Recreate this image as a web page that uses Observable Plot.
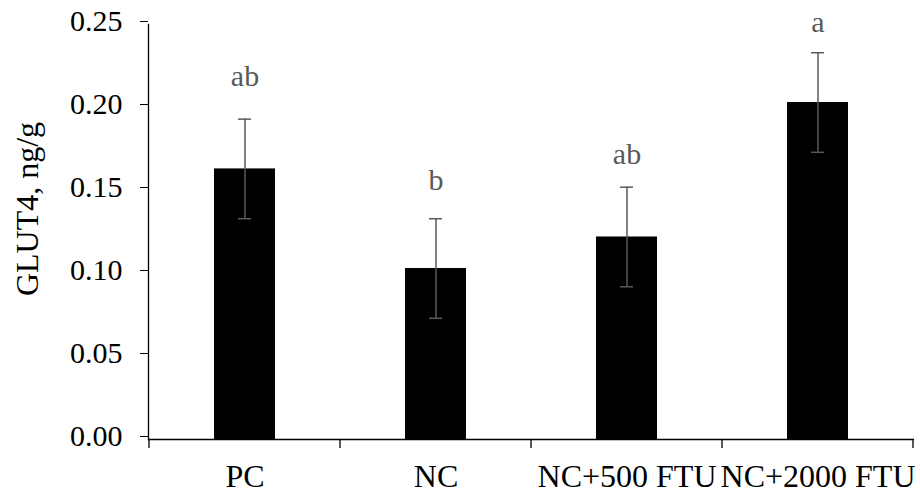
<!DOCTYPE html>
<html><head><meta charset="utf-8">
<script src="https://cdn.jsdelivr.net/npm/d3@7"></script>
<script src="https://cdn.jsdelivr.net/npm/@observablehq/plot@0.6"></script>
<style>html,body{margin:0;padding:0;background:#fff}</style>
</head><body><div id="chart"></div>
<script>
const groups = ["PC", "NC", "NC+500 FTU", "NC+2000 FTU"];
const means = [0.163, 0.103, 0.122, 0.203];
const errors = [0.030, 0.030, 0.030, 0.030];
const letters = ["ab", "b", "ab", "a"];
const letterY = [0.2127, 0.1506, 0.1661, 0.2454];
const yTicks = [0, 0.05, 0.10, 0.15, 0.20, 0.25];
const yTitle = "GLUT4, ng/g";

const data = groups.map((g, i) => ({
  group: g, mean: means[i], lo: means[i] - errors[i], hi: means[i] + errors[i],
  letter: letters[i], ly: letterY[i]
}));

const W = 920, H = 496, ML = 148, MR = 6, MT = 24, MB = 57;
const font = "'Liberation Serif','Times New Roman',serif";

const plot = Plot.plot({
  width: W, height: H,
  marginLeft: ML, marginRight: MR, marginTop: MT, marginBottom: MB,
  style: {fontFamily: font, background: "#fff", color: "#000", overflow: "visible"},
  x: {domain: groups, padding: 0, label: null},
  y: {domain: [0, 0.25], label: null},
  marks: [
    Plot.barY(data, {x: "group", y: "mean", fill: "#000", insetLeft: 65, insetRight: 65}),
    Plot.ruleX(data, {x: "group", y1: "lo", y2: "hi", stroke: "#595959", strokeWidth: 1.5}),
    Plot.tickY(data, {x: "group", y: "hi", stroke: "#595959", strokeWidth: 1.5, insetLeft: 89, insetRight: 89}),
    Plot.tickY(data, {x: "group", y: "lo", stroke: "#595959", strokeWidth: 1.5, insetLeft: 89, insetRight: 89}),
    Plot.text(data, {x: "group", y: "ly", text: "letter", lineAnchor: "bottom", fontSize: 30, fill: "#595959"}),
    Plot.axisY({ticks: yTicks, tickFormat: ".2f", tickSize: 8, tickPadding: 18, fontSize: 30, label: null, dy: -3}),
    Plot.axisX({tickSize: 0, tickPadding: 25, fontSize: 32, label: null}),
    Plot.ruleY([0], {stroke: "#000", strokeWidth: 1.3}),
    Plot.frame({anchor: "left", stroke: "#000", strokeWidth: 1.3}),
    Plot.text([yTitle], {frameAnchor: "left", text: d => d, rotate: -90, lineAnchor: "bottom",
      textAnchor: "middle", dx: -111, dy: -23, fontSize: 32, fill: "#000"})
  ]
});

// category boundary ticks on the x axis, placed with the plot's own x scale
const xs = plot.scale("x");
const ys = plot.scale("y");
const y0 = ys.apply(0);
const bounds = groups.map(g => xs.apply(g)).concat([xs.apply(groups[groups.length - 1]) + xs.bandwidth]);
d3.select(plot).append("g")
  .attr("stroke", "#000").attr("stroke-width", 1.3)
  .selectAll("line").data(bounds).join("line")
  .attr("x1", d => d).attr("x2", d => d)
  .attr("y1", y0).attr("y2", y0 + 9);

document.getElementById("chart").appendChild(plot);
</script>
</body></html>
